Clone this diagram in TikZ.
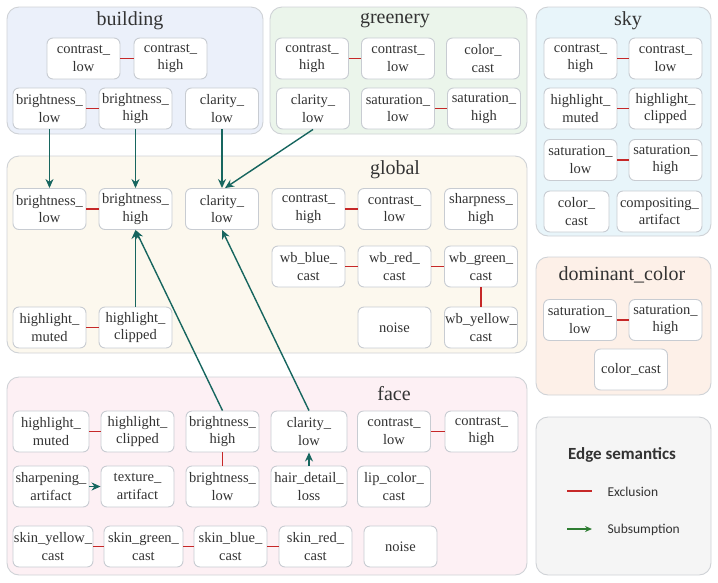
\documentclass[tikz,border=0pt]{standalone}
\usepackage{fontspec}
\setmainfont{Liberation Serif}
\newfontfamily\legendfont{Carlito}
\usetikzlibrary{arrows.meta}
\definecolor{txt}{HTML}{333333}
\definecolor{boxline}{HTML}{C8CCD2}
\definecolor{grpline}{HTML}{CFD2D6}
\definecolor{exred}{HTML}{C62828}
\definecolor{subteal}{HTML}{17665F}
\definecolor{leggreen}{HTML}{2E7D32}
\definecolor{bldfill}{HTML}{EBF0FA}
\definecolor{grnfill}{HTML}{EBF5EB}
\definecolor{skyfill}{HTML}{E8F5FA}
\definecolor{glbfill}{HTML}{FCF8EE}
\definecolor{domfill}{HTML}{FDF0E8}
\definecolor{facfill}{HTML}{FDF0F4}
\definecolor{legfill}{HTML}{F5F5F5}
\tikzset{
    attr/.style = {rectangle, rounded corners=6pt, draw=boxline, line width=0.9pt, fill=white, minimum width=73pt, minimum height=41pt, inner sep=0pt, align=center, font=\fontsize{14.5}{17.5}\selectfont, text=txt},
    attrw/.style = {attr, minimum width=76pt},
    groupbox/.style = {rounded corners=12pt, draw=grpline, line width=0.9pt},
    grouptitle/.style = {font=\fontsize{20}{23}\selectfont, text=txt},
    edgeex/.style = {-, line width=1.8pt, exred},
    edgesub/.style = {-{Stealth[length=9pt,width=8pt]}, line width=1.4pt, subteal},
    legtext/.style = {font=\legendfont\fontsize{13.5}{16}\selectfont, text=txt, anchor=west}
}

\begin{document}
\begin{tikzpicture}[x=1pt,y=-1pt]
\useasboundingbox (0,0) rectangle (718,582);
%
\draw[groupbox, fill=bldfill] (7,7) rectangle (263,134);
\draw[groupbox, fill=grnfill] (270,7) rectangle (527,134);
\draw[groupbox, fill=skyfill] (536,7) rectangle (711,236);
\draw[groupbox, fill=glbfill] (7,156) rectangle (527,353);
\draw[groupbox, fill=domfill] (536,257) rectangle (711,395);
\draw[groupbox, fill=facfill] (7,377) rectangle (527,575);
\draw[groupbox, fill=legfill] (536,417) rectangle (711,575);
%
\node[grouptitle] at (130, 21) (bld) {building};
\node[grouptitle] at (395, 21) (grn) {greenery};
\node[grouptitle] at (628, 21) (sky) {sky};
\node[grouptitle] at (395, 170) (glb) {global};
\node[grouptitle] at (622, 275) (dom) {dominant\_color};
\node[grouptitle] at (394, 394) (fac) {face};
%
% building
\node[attr] at (83.5, 58.5) (bld-conl) {contrast\_\\low};
\node[attr] at (170.5, 58.5) (bld-conh) {contrast\_\\high};
\node[attr] at (49.5, 108.5) (bld-brl) {brightness\_\\low};
\node[attr] at (135.5, 108.5) (bld-brh) {brightness\_\\high};
\node[attr] at (222, 108.5) (bld-clal) {clarity\_\\low};
%
% greenery
\node[attr] at (312, 58.5) (grn-conh) {contrast\_\\high};
\node[attr] at (398, 58.5) (grn-conl) {contrast\_\\low};
\node[attr] at (483, 58.5) (grn-col) {color\_\\cast};
\node[attr] at (313, 108.5) (grn-clal) {clarity\_\\low};
\node[attr] at (398, 108.5) (grn-satl) {saturation\_\\low};
\node[attr] at (484, 108.5) (grn-sath) {saturation\_\\high};
%
% sky
\node[attr] at (580.5, 58.5) (sky-conh) {contrast\_\\high};
\node[attr] at (665.5, 58.5) (sky-conl) {contrast\_\\low};
\node[attr] at (580.5, 108.5) (sky-hlm) {highlight\_\\muted};
\node[attr] at (665.5, 108.5) (sky-hlc) {highlight\_\\clipped};
\node[attr] at (580.5, 160) (sky-satl) {saturation\_\\low};
\node[attr] at (665.5, 160) (sky-sath) {saturation\_\\high};
\node[attr, minimum width=65pt] at (576.5, 211.5) (sky-col) {color\_\\cast};
\node[attr, minimum width=85pt] at (659.5, 211.5) (sky-comp) {compositing\_\\artifact};
%
% global
\node[attr] at (49.5, 209) (glb-brl) {brightness\_\\low};
\node[attr] at (135.5, 209) (glb-brh) {brightness\_\\high};
\node[attr] at (222, 209) (glb-clal) {clarity\_\\low};
\node[attr] at (308.5, 209) (glb-conh) {contrast\_\\high};
\node[attr] at (394.5, 209) (glb-conl) {contrast\_\\low};
\node[attr] at (481, 209) (glb-shh) {sharpness\_\\high};
\node[attr] at (308.5, 266.5) (glb-wbb) {wb\_blue\_\\cast};
\node[attr] at (394.5, 266.5) (glb-wbr) {wb\_red\_\\cast};
\node[attr] at (481, 266.5) (glb-wbg) {wb\_green\_\\cast};
\node[attr] at (49.5, 327.5) (glb-hlm) {highlight\_\\muted};
\node[attr] at (135.5, 327.5) (glb-hlc) {highlight\_\\clipped};
\node[attr] at (394.5, 327.5) (glb-noi) {noise};
\node[attr] at (481, 327.5) (glb-wby) {wb\_yellow\_\\cast};
%
% dominant_color
\node[attr] at (580, 320) (dom-satl) {saturation\_\\low};
\node[attr] at (665.5, 320) (dom-sath) {saturation\_\\high};
\node[attr] at (631, 369.5) (dom-col) {color\_cast};
%
% face
\node[attrw] at (51, 431.5) (fac-hlm) {highlight\_\\muted};
\node[attr] at (137.5, 431.5) (fac-hlc) {highlight\_\\clipped};
\node[attr] at (222.5, 431.5) (fac-brh) {brightness\_\\high};
\node[attrw] at (309, 431.5) (fac-clal) {clarity\_\\low};
\node[attr] at (394, 431.5) (fac-conl) {contrast\_\\low};
\node[attr] at (481.5, 431.5) (fac-conh) {contrast\_\\high};
\node[attrw] at (51, 486.5) (fac-shp) {sharpening\_\\artifact};
\node[attr] at (137.5, 486.5) (fac-tex) {texture\_\\artifact};
\node[attr] at (222.5, 486.5) (fac-brl) {brightness\_\\low};
\node[attrw] at (309, 486.5) (fac-hair) {hair\_detail\_\\loss};
\node[attr] at (394, 486.5) (fac-lip) {lip\_color\_\\cast};
\node[attr, minimum width=80pt] at (53, 546.5) (fac-sky) {skin\_yellow\_\\cast};
\node[attr, minimum width=79pt] at (143.5, 546.5) (fac-skg) {skin\_green\_\\cast};
\node[attr] at (230.5, 546.5) (fac-skb) {skin\_blue\_\\cast};
\node[attr] at (315.5, 546.5) (fac-skr) {skin\_red\_\\cast};
\node[attr] at (400.5, 546.5) (fac-noi) {noise};
%
% exclusion
\draw[edgeex] (bld-conl) -- (bld-conh);
\draw[edgeex] (bld-brl) -- (bld-brh);
\draw[edgeex] (grn-conh) -- (grn-conl);
\draw[edgeex] (grn-satl) -- (grn-sath);
\draw[edgeex] (sky-conh) -- (sky-conl);
\draw[edgeex] (sky-hlm) -- (sky-hlc);
\draw[edgeex] (sky-satl) -- (sky-sath);
\draw[edgeex] (glb-brl) -- (glb-brh);
\draw[edgeex] (glb-conh) -- (glb-conl);
\draw[edgeex] (glb-wbb) -- (glb-wbr);
\draw[edgeex] (glb-wbr) -- (glb-wbg);
\draw[edgeex] (glb-wbg) -- (glb-wby);
\draw[edgeex] (glb-hlm) -- (glb-hlc);
\draw[edgeex] (dom-satl) -- (dom-sath);
\draw[edgeex] (fac-hlm) -- (fac-hlc);
\draw[edgeex] (fac-conl) -- (fac-conh);
\draw[edgeex] (fac-brh) -- (fac-brl);
\draw[edgeex] (fac-sky) -- (fac-skg);
\draw[edgeex] (fac-skg) -- (fac-skb);
\draw[edgeex] (fac-skb) -- (fac-skr);
%
% subsumption
\draw[edgesub] (bld-brl) -- (glb-brl);
\draw[edgesub] (bld-brh) -- (glb-brh);
\draw[edgesub] (bld-clal) -- (glb-clal);
\draw[edgesub] (grn-clal.south) -- ([xshift=3pt]glb-clal.north);
\draw[edgesub] (glb-hlc) -- (glb-brh);
\draw[edgesub] (fac-brh.north) -- (glb-brh.south);
\draw[edgesub] (fac-clal.north) -- (glb-clal.south);
\draw[edgesub] (fac-shp) -- (fac-tex);
\draw[edgesub] (fac-hair) -- (fac-clal);
%
% legend
\node[font=\legendfont\bfseries\fontsize{17}{20}\selectfont, text=txt] at (622, 455) (leg) {Edge semantics};
\coordinate (ex-a) at (567, 491);
\coordinate (ex-b) at (592, 491);
\coordinate (sub-a) at (567, 529);
\coordinate (sub-b) at (592, 529);
\draw[-, line width=1.3pt, exred] (ex-a) -- (ex-b);
\draw[-{Stealth[length=7pt,width=6pt]}, line width=1.3pt, leggreen] (sub-a) -- (sub-b);
\node[legtext] at (604, 492) (leg-ex) {Exclusion};
\node[legtext] at (604, 530) (leg-sub) {Subsumption};
\end{tikzpicture}
\end{document}
